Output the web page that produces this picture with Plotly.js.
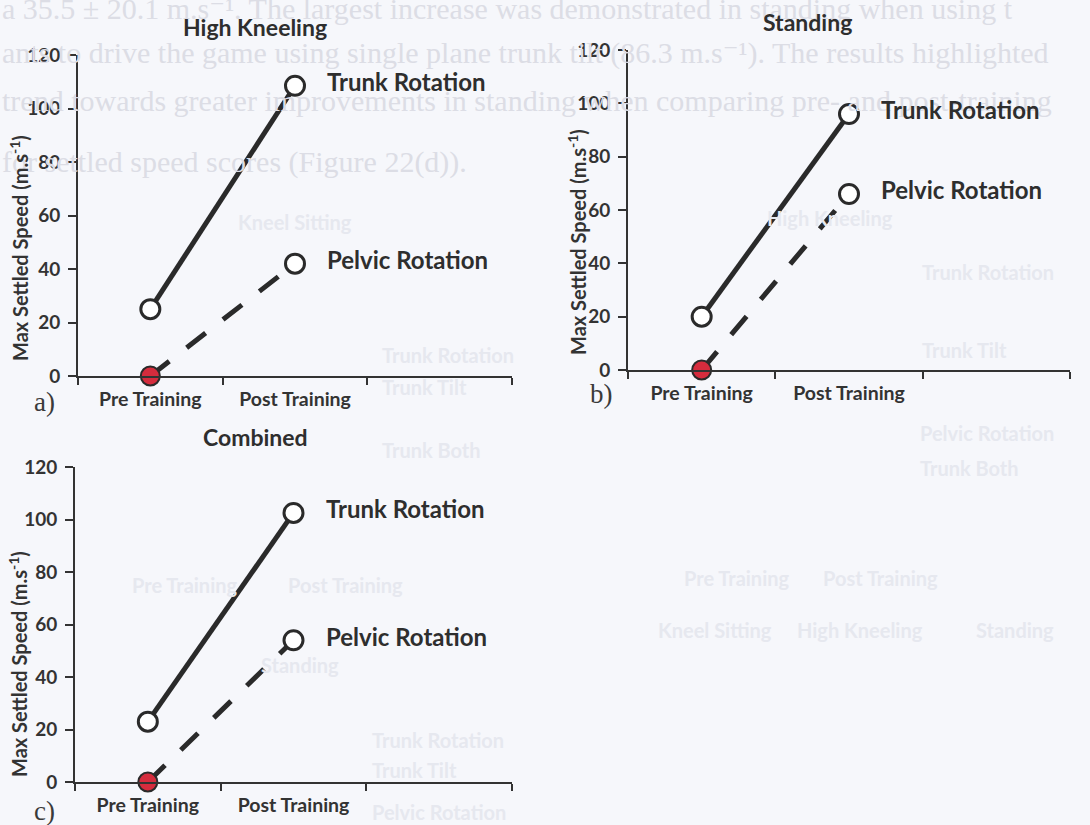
<!DOCTYPE html>
<html>
<head>
<meta charset="utf-8">
<script src="https://cdn.plot.ly/plotly-3.0.1.min.js"></script>
<style>html,body{margin:0;padding:0;background:#f6f7fb;}#chart{width:1090px;height:825px;}</style>
</head>
<body>
<div id="chart"></div>
<script>
// ---- data ----
const stages = ["Pre Training", "Post Training"];
const seriesNames = ["Trunk Rotation", "Pelvic Rotation"];
const panelTitles = ["High Kneeling", "Standing", "Combined"];
const panelLetters = ["a)", "b)", "c)"];
const highKneelingTrunk = [25, 108.5];
const highKneelingPelvic = [0, 42];
const standingTrunk = [20, 96];
const standingPelvic = [0, 66];
const combinedTrunk = [23, 102.5];
const combinedPelvic = [0, 54];
const yTickVals = [0, 20, 40, 60, 80, 100, 120];
const yTitle = "Max Settled Speed (m.s<sup>-1</sup>)";
const ghostParagraph = [
  "a 35.5 \u00b1 20.1 m.s\u207b\u00b9. The largest increase was demonstrated in standing when using t",
  "ants to drive the game using single plane trunk tilt (86.3 m.s\u207b\u00b9). The results highlighted",
  "trend towards greater improvements in standing when comparing pre- and post-training",
  "for settled speed scores (Figure 22(d))."
];

// ---- style ----
const W = 1090, H = 825;
const px = x => x / W, py = y => 1 - y / H;
const ink = "#2a2a2a", axisCol = "#333333", red = "#d52c3d";
const sans = "Lato, 'Open Sans', sans-serif";
const serif = "'Liberation Serif', 'DejaVu Serif', serif";

const panels = [
  {trunk: highKneelingTrunk, pelvic: highKneelingPelvic, x0: 78, x1: 512, yTop: 55, yBot: 376, title: [255, 27], letter: [44, 402], ytitle: [19, 248]},
  {trunk: standingTrunk, pelvic: standingPelvic, x0: 628, x1: 1070, yTop: 50, yBot: 370, title: [807, 22], letter: [601, 394], ytitle: [577, 242]},
  {trunk: combinedTrunk, pelvic: combinedPelvic, x0: 75, x1: 512, yTop: 467, yBot: 782, title: [255, 437], letter: [44, 811], ytitle: [18, 664]}
];

const traces = [];
const layout = {
  width: W, height: H,
  margin: {l: 0, r: 0, t: 0, b: 0},
  paper_bgcolor: "#f6f7fb",
  plot_bgcolor: "rgba(0,0,0,0)",
  showlegend: false,
  annotations: [],
  font: {family: sans, color: "#333"}
};

// faint bleed-through text of the page
const ghostY = [9, 53, 100, 162];
ghostParagraph.forEach((t, i) => {
  layout.annotations.push({
    text: t, xref: "paper", yref: "paper",
    x: px(0), y: py(ghostY[i]),
    xanchor: "left", yanchor: "middle", showarrow: false,
    font: {family: serif, size: 30, color: "#dcdde5"}
  });
});
const ghostLabels = [
  ["Kneel Sitting", 295, 222, "center"],
  ["Trunk Rotation", 380, 355, "left"], ["Trunk Tilt", 380, 387, "left"], ["Trunk Both", 380, 450, "left"],
  ["Pre Training", 185, 585, "center"], ["Post Training", 345, 585, "center"],
  ["High Kneeling", 830, 218, "center"],
  ["Trunk Rotation", 920, 272, "left"], ["Trunk Tilt", 920, 350, "left"],
  ["Pelvic Rotation", 918, 433, "left"], ["Trunk Both", 918, 468, "left"],
  ["Pre Training", 737, 578, "center"], ["Post Training", 880, 578, "center"],
  ["Standing", 300, 665, "center"],
  ["Trunk Rotation", 370, 740, "left"], ["Trunk Tilt", 370, 770, "left"], ["Pelvic Rotation", 370, 812, "left"],
  ["Kneel Sitting", 715, 630, "center"], ["High Kneeling", 860, 630, "center"], ["Standing", 1015, 630, "center"]
];
ghostLabels.forEach(g => layout.annotations.push({
  text: g[0], xref: "paper", yref: "paper", x: px(g[1]), y: py(g[2]),
  xanchor: g[3], yanchor: "middle", showarrow: false,
  font: {family: sans, size: 20, weight: "bold", color: "#e6e8ef"}
}));

const xIdx = stages.map((s, i) => i);

panels.forEach((p, k) => {
  const n = k === 0 ? "" : String(k + 1);
  const xa = "x" + n, ya = "y" + n;
  layout["xaxis" + n] = {
    domain: [px(p.x0), px(p.x1)], anchor: ya,
    range: [-0.5, 2.5], type: "linear",
    tickmode: "array", tickvals: xIdx, ticktext: stages, ticks: "",
    minor: {tickmode: "array", tickvals: [-0.4999, 0.5, 1.5, 2.4999], ticks: "outside", ticklen: 7, tickwidth: 2, tickcolor: axisCol},
    showline: true, linecolor: axisCol, linewidth: 2,
    showgrid: false, zeroline: false, ticklabelstandoff: 5,
    tickfont: {family: sans, size: 19.5, weight: "bold", color: "#333"},
    fixedrange: true
  };
  layout["yaxis" + n] = {
    domain: [py(p.yBot), py(p.yTop)], anchor: xa,
    range: [0, 120], tickmode: "array", tickvals: yTickVals,
    ticks: "outside", ticklen: 8, tickwidth: 2, tickcolor: axisCol,
    showline: true, linecolor: axisCol, linewidth: 2,
    showgrid: false, zeroline: false, ticklabelstandoff: 4,
    tickfont: {family: sans, size: 19, weight: "bold", color: "#333"},
    automargin: false, fixedrange: true
  };
  // y-axis title, placed as in the original figure
  layout.annotations.push({
    text: yTitle, xref: "paper", yref: "paper",
    x: px(p.ytitle[0]), y: py(p.ytitle[1]), xanchor: "center", yanchor: "middle",
    textangle: -90, showarrow: false,
    font: {family: sans, size: 20, weight: "bold", color: "#333"}
  });
  // trunk (solid)
  traces.push({
    type: "scatter", mode: "lines+markers", xaxis: xa, yaxis: ya,
    x: xIdx, y: p.trunk, name: seriesNames[0],
    line: {color: ink, width: 5},
    marker: {size: 19, color: "#ffffff", line: {color: ink, width: 3}},
    cliponaxis: false, hoverinfo: "skip"
  });
  // pelvic (dashed)
  traces.push({
    type: "scatter", mode: "lines+markers", xaxis: xa, yaxis: ya,
    x: xIdx, y: p.pelvic, name: seriesNames[1],
    line: {color: ink, width: 5, dash: "24px,22px"},
    marker: {size: 19, color: [red, "#ffffff"], line: {color: [ink, ink], width: [2, 3]}},
    cliponaxis: false, hoverinfo: "skip"
  });
  // series labels at the last point
  [p.trunk, p.pelvic].forEach((vals, si) => layout.annotations.push({
    text: seriesNames[si], xref: xa, yref: ya,
    x: xIdx[xIdx.length - 1], y: vals[vals.length - 1],
    xanchor: "left", yanchor: "middle", xshift: 30, yshift: 4, showarrow: false,
    font: {family: sans, size: 24, weight: "bold", color: "#2e2e2e"}
  }));
  // panel title
  layout.annotations.push({
    text: panelTitles[k], xref: "paper", yref: "paper",
    x: px(p.title[0]), y: py(p.title[1]), xanchor: "center", yanchor: "middle",
    showarrow: false, font: {family: sans, size: 23, weight: "bold", color: "#2e2e2e"}
  });
  // panel letter
  layout.annotations.push({
    text: panelLetters[k], xref: "paper", yref: "paper",
    x: px(p.letter[0]), y: py(p.letter[1]), xanchor: "center", yanchor: "middle",
    showarrow: false, font: {family: serif, size: 27, color: "#3a3a3a"}
  });
});

Plotly.newPlot("chart", traces, layout, {displayModeBar: false, staticPlot: true});
</script>
</body>
</html>
